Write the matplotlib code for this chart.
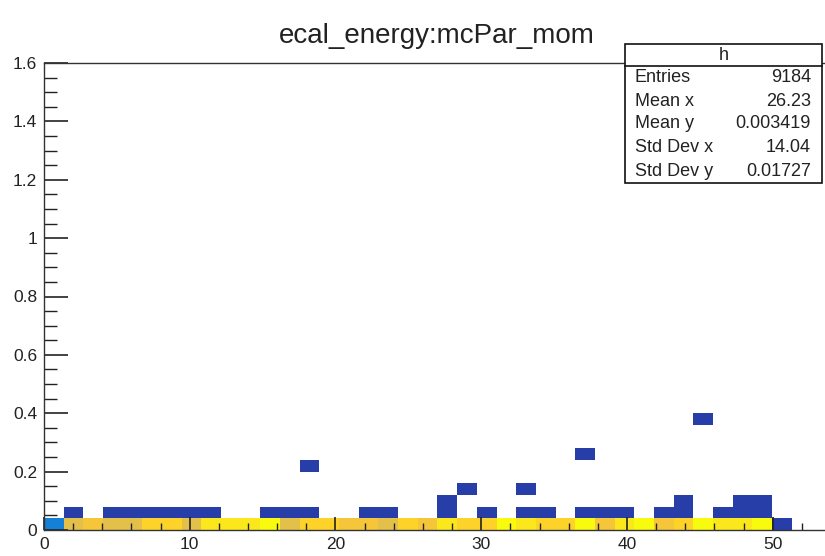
import numpy as np
import matplotlib
matplotlib.use("Agg")
import matplotlib.pyplot as plt
from matplotlib.colors import LinearSegmentedColormap, ListedColormap, BoundaryNorm
from matplotlib.ticker import MultipleLocator, FuncFormatter
from matplotlib.patches import Rectangle
from matplotlib.lines import Line2D

plt.rcParams['font.family'] = ['Liberation Sans', 'DejaVu Sans']

# binning of the 2D histogram (40 x 40 bins)
nbx, xlo, xhi = 40, 0.0, 54.0
nby, ylo, yhi = 40, 0.0, 1.6

# counts in the lowest ecal_energy row, mcPar_mom bins 0..36
row0_counts = [63, 220, 236, 218, 224, 251, 248, 220, 267, 265,
               270, 279, 222, 254, 249, 239, 233, 219, 256, 241,
               264, 250, 247, 283, 268, 253, 257, 288, 235, 261,
               276, 242, 252, 285, 269, 265, 281]

# scattered bins holding a single entry (x bin, y bin)
single_ix = [37, 1, 3, 4, 5, 6, 7, 8, 11, 12, 13, 16, 17, 20, 22, 24, 25,
             27, 28, 29, 31, 32, 34, 35, 36, 20, 32, 35, 36, 21, 24, 13, 27, 33]
single_iy = [0, 1, 1, 1, 1, 1, 1, 1, 1, 1, 1, 1, 1, 1, 1, 1, 1,
             1, 1, 1, 1, 1, 1, 1, 1, 2, 2, 2, 2, 3, 3, 5, 6, 9]

stat_names = ["Entries", "Mean x", "Mean y", "Std Dev x", "Std Dev y"]
stat_vals = [None, "26.23", "0.003419", "14.04", "0.01727"]

H = np.zeros((nbx, nby))
H[:len(row0_counts), 0] = row0_counts
np.add.at(H, (np.array(single_ix), np.array(single_iy)), 1)
stat_vals[0] = str(int(H.sum()))

# ROOT kBird palette, 20 contour levels
stops = [0.0000, 0.1250, 0.2500, 0.3750, 0.5000, 0.6250, 0.7500, 0.8750, 1.0000]
red = [0.2082, 0.0592, 0.0780, 0.0232, 0.1802, 0.5301, 0.8186, 0.9956, 0.9764]
green = [0.1664, 0.3599, 0.5041, 0.6419, 0.7178, 0.7492, 0.7328, 0.7862, 0.9832]
blue = [0.5293, 0.8684, 0.8385, 0.7914, 0.6425, 0.4662, 0.3499, 0.1968, 0.0539]
bird = LinearSegmentedColormap.from_list(
    "bird", list(zip(stops, zip(red, green, blue))), N=255)
ncont = 20
lev_cols = [bird(int((i + 0.99) * 255 / ncont) / 254.0) for i in range(ncont)]
cmap = ListedColormap(lev_cols)
norm = BoundaryNorm(np.linspace(0, H.max(), ncont + 1), ncont)

W, Hpx = 825, 556
fig = plt.figure(figsize=(W / 100, Hpx / 100), dpi=100)
x0, x1, y0, y1 = 44, 831, 63, 530
ax = fig.add_axes([x0 / W, 1 - y1 / Hpx, (x1 - x0) / W, (y1 - y0) / Hpx])

xe = np.linspace(xlo, xhi, nbx + 1)
ye = np.linspace(ylo, yhi, nby + 1)
ax.pcolormesh(xe, ye, np.ma.masked_equal(H.T, 0), cmap=cmap, norm=norm,
              shading='flat', zorder=1)

ax.set_xlim(xlo, xhi)
ax.set_ylim(ylo, yhi)
for s in ['left', 'bottom', 'top', 'right']:
    ax.spines[s].set_color('#333333')
    ax.spines[s].set_linewidth(1.0)

ax.xaxis.set_major_locator(MultipleLocator(10))
ax.xaxis.set_minor_locator(MultipleLocator(2))
ax.yaxis.set_major_locator(MultipleLocator(0.2))
ax.yaxis.set_minor_locator(MultipleLocator(0.05))
fmt = FuncFormatter(lambda v, p: "%g" % round(v, 3))
ax.xaxis.set_major_formatter(fmt)
ax.yaxis.set_major_formatter(fmt)

ax.tick_params(axis='x', which='major', direction='in', length=9.4, width=1.2,
               color='#222222', labelsize=12.5, pad=5, top=False)
ax.tick_params(axis='x', which='minor', direction='in', length=4.7, width=1.0,
               color='#222222', top=False)
ax.tick_params(axis='y', which='major', direction='in', length=17.3, width=1.2,
               color='#222222', labelsize=12.5, pad=5, right=False)
ax.tick_params(axis='y', which='minor', direction='in', length=9.4, width=1.0,
               color='#222222', right=False)
for lab in ax.get_xticklabels() + ax.get_yticklabels():
    lab.set_color('#222222')

fig.text(437 / W, 1 - 36 / Hpx, "ecal_energy:mcPar_mom", ha='center',
         va='center', fontsize=20, color='#222222')

# statistics box
bl, br, bt, bb, bh = 625, 822, 44, 183, 66
fig.add_artist(Rectangle((bl / W, 1 - bb / Hpx), (br - bl) / W, (bb - bt) / Hpx,
                         transform=fig.transFigure, facecolor='white',
                         edgecolor='#111111', linewidth=1.2, zorder=5))
fig.add_artist(Line2D([bl / W, br / W], [1 - bh / Hpx, 1 - bh / Hpx],
                      transform=fig.transFigure, color='#111111',
                      linewidth=1.2, zorder=6))
fig.text((bl + br) / 2 / W, 1 - 56 / Hpx, "h", ha='center', va='center',
         fontsize=13, color='#222222', zorder=7)
row_y = [78, 101, 123, 148, 171]
for name, val, yy in zip(stat_names, stat_vals, row_y):
    fig.text(635 / W, 1 - yy / Hpx, name, ha='left', va='center',
             fontsize=13, color='#222222', zorder=7)
    fig.text(811 / W, 1 - yy / Hpx, val, ha='right', va='center',
             fontsize=13, color='#222222', zorder=7)

fig.savefig("out.png", dpi=100)
